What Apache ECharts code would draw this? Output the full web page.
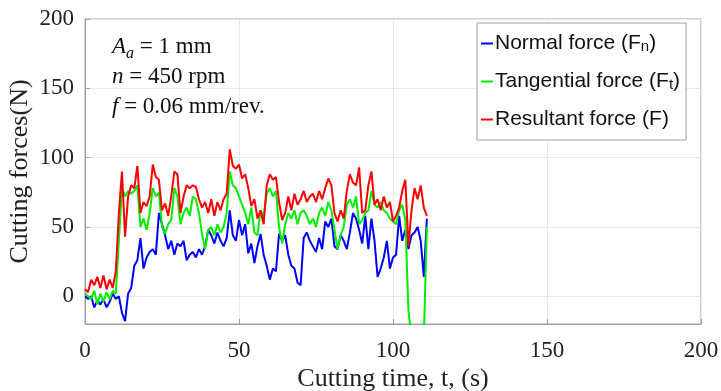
<!DOCTYPE html>
<html>
<head>
<meta charset="utf-8">
<script src="https://cdn.jsdelivr.net/npm/echarts@6/dist/echarts.min.js"></script>
<style>
  html, body { margin: 0; padding: 0; background: #fff; }
  #chart { width: 721px; height: 391px; }
</style>
</head>
<body>
<div id="chart"></div>
<script>
// cutting time (s)
const time = [
  0, 1, 2, 3, 4, 5, 6, 7, 8, 9,
  10, 11, 12, 13, 14, 15, 16, 17, 18, 19,
  20, 21, 22, 23, 24, 25, 26, 27, 28, 29,
  30, 31, 32, 33, 34, 35, 36, 37, 38, 39,
  40, 41, 42, 43, 44, 45, 46, 47, 48, 49,
  50, 51, 52, 53, 54, 55, 56, 57, 58, 59,
  60, 61, 62, 63, 64, 65, 66, 67, 68, 69,
  70, 71, 72, 73, 74, 75, 76, 77, 78, 79,
  80, 81, 82, 83, 84, 85, 86, 87, 88, 89,
  90, 91, 92, 93, 94, 95, 96, 97, 98, 99,
  100, 101, 102, 103, 104, 105, 106, 107, 108, 109,
  110, 111
];

// normal force Fn (N)
const normalForce = [
  0, -2, 0, -8, -3, -6, -2, -8, -4, 2,
  -2, 0, -12, -18, 2, 6, 22, 26, 42, 20,
  28, 32, 34, 30, 60, 52, 44, 34, 40, 30,
  38, 36, 40, 26, 30, 32, 28, 34, 30, 36,
  48, 44, 38, 46, 40, 36, 42, 62, 44, 40,
  55, 44, 52, 31, 38, 24, 36, 45, 30, 22,
  12, 20, 18, 45, 40, 44, 30, 22, 20, 10,
  8, 42, 46, 40, 36, 32, 42, 34, 54, 50,
  56, 36, 34, 44, 40, 34, 46, 60, 56, 48,
  38, 58, 34, 56, 40, 14, 20, 28, 40, 20,
  28, 30, 58, 40, 48, 34, 44, 46, 50, 40,
  14, 56
];

// tangential force Ft (N)
const tangentialForce = [
  2, 0, -2, 4, -6, 2, -4, 3, -2, 4,
  2, 40, 78, 72, 76, 74, 76, 80, 50, 56,
  48, 60, 78, 72, 75, 50, 45, 52, 55, 78,
  72, 52, 60, 64, 58, 72, 70, 60, 45, 34,
  48, 50, 44, 52, 46, 50, 60, 90, 80, 78,
  72, 66, 60, 52, 64, 46, 44, 62, 58, 74,
  78, 72, 76, 50, 38, 52, 60, 56, 62, 52,
  60, 62, 58, 52, 56, 50, 60, 64, 58, 68,
  62, 48, 34, 44, 50, 66, 70, 64, 72, 52,
  55, 60, 62, 76, 66, 64, 68, 62, 60, 56,
  54, 52, 62, 66, 55, -10, -30, -30, -30, -30,
  -30, 50
];

// resultant force F (N)
const resultantForce = [
  5, 3, 12, 8, 14, 6, 15, 5, 12, 6,
  18, 60, 90, 43, 72, 80, 78, 94, 60, 68,
  65, 72, 95, 86, 84, 62, 67, 58, 72, 90,
  88, 60, 72, 80, 78, 80, 79, 70, 64, 68,
  60, 70, 58, 68, 62, 70, 74, 106, 94, 92,
  95, 85, 88, 78, 65, 70, 56, 62, 52, 80,
  88, 84, 86, 68, 55, 60, 72, 62, 74, 66,
  70, 76, 68, 72, 74, 68, 76, 70, 78, 85,
  80, 60, 54, 62, 56, 76, 88, 82, 80, 93,
  60, 62, 80, 90, 66, 70, 62, 72, 64, 68,
  54, 58, 64, 76, 84, 36, 62, 78, 70, 80,
  64, 58
];

const yTicks = [0, 50, 100, 150, 200];

const chart = echarts.init(document.getElementById('chart'));

const serif = 'Liberation Serif';
const sans = 'Liberation Sans';

function pairs(ys) {
  return time.map((t, i) => [t, ys[i]]);
}

const legendText = {
  'Normal force': 'Normal force (F{s|n})',
  'Tangential force': 'Tangential force (F{s|t})',
  'Resultant force': 'Resultant force (F)'
};

const option = {
  animation: false,
  grid: {
    left: 85,
    right: 20,
    top: 19,
    bottom: 67,
    containLabel: false,
    outerBoundsMode: 'none',
    show: true,
    borderColor: '#a0a0a0',
    borderWidth: 1
  },
  legend: {
    orient: 'vertical',
    left: 477,
    top: 23,
    padding: [10, 6, 10, 3],
    itemGap: 17,
    itemWidth: 12,
    itemHeight: 2,
    backgroundColor: '#fff',
    borderColor: '#a0a0a0',
    borderWidth: 1,
    borderRadius: 0,
    formatter: name => legendText[name],
    textStyle: {
      fontFamily: sans,
      fontSize: 21,
      color: '#111',
      padding: [0, 0, 0, -3],
      rich: {
        s: { fontFamily: sans, fontSize: 15, color: '#111', verticalAlign: 'bottom', lineHeight: 14 }
      }
    }
  },
  xAxis: {
    type: 'value',
    min: 0,
    max: 200,
    interval: 50,
    name: 'Cutting time, t, (s)',
    nameLocation: 'middle',
    nameGap: 42,
    nameMoveOverlap: false,
    nameTextStyle: { fontFamily: serif, fontSize: 26, color: '#222' },
    axisLine: { onZero: false, lineStyle: { color: '#a0a0a0' } },
    axisTick: { inside: true, length: 5, lineStyle: { color: '#a0a0a0' } },
    axisLabel: { fontFamily: serif, fontSize: 23, color: '#222', margin: 15 },
    splitLine: { show: true, lineStyle: { color: '#e8e8e8' } }
  },
  yAxis: {
    type: 'value',
    min: -20,
    max: 200,
    name: 'Cutting forces(N)',
    nameLocation: 'middle',
    nameGap: 52,
    nameMoveOverlap: false,
    nameTextStyle: { fontFamily: serif, fontSize: 26, color: '#222' },
    axisLine: { show: true, lineStyle: { color: '#a0a0a0' } },
    axisTick: { show: true, inside: true, length: 5, customValues: yTicks, lineStyle: { color: '#a0a0a0' } },
    axisLabel: { fontFamily: serif, fontSize: 23, color: '#222', margin: 11, customValues: yTicks },
    splitLine: { show: true, lineStyle: { color: '#e8e8e8' } }
  },
  graphic: [
    {
      type: 'text',
      left: 112,
      top: 35,
      style: {
        text: '{i|A}{sub|a}{n| = 1 mm}\n{i|n}{n| = 450 rpm}\n{i|f}{n| = 0.06 mm/rev.}',
        fill: '#111',
        rich: {
          i: { fontFamily: serif, fontStyle: 'italic', fontSize: 23, lineHeight: 30, fill: '#111' },
          sub: { fontFamily: serif, fontStyle: 'italic', fontSize: 16, lineHeight: 30, verticalAlign: 'bottom', padding: [9, 0, 0, 0], fill: '#111' },
          n: { fontFamily: serif, fontSize: 23, lineHeight: 30, fill: '#111' }
        }
      }
    }
  ],
  series: [
    {
      name: 'Normal force',
      type: 'line',
      data: pairs(normalForce),
      symbol: 'none',
      color: '#0000ff',
      lineStyle: { width: 2 }
    },
    {
      name: 'Tangential force',
      type: 'line',
      data: pairs(tangentialForce),
      symbol: 'none',
      color: '#00ee00',
      lineStyle: { width: 2 }
    },
    {
      name: 'Resultant force',
      type: 'line',
      data: pairs(resultantForce),
      symbol: 'none',
      color: '#ff0000',
      lineStyle: { width: 2 }
    }
  ]
};

chart.setOption(option);
</script>
</body>
</html>
